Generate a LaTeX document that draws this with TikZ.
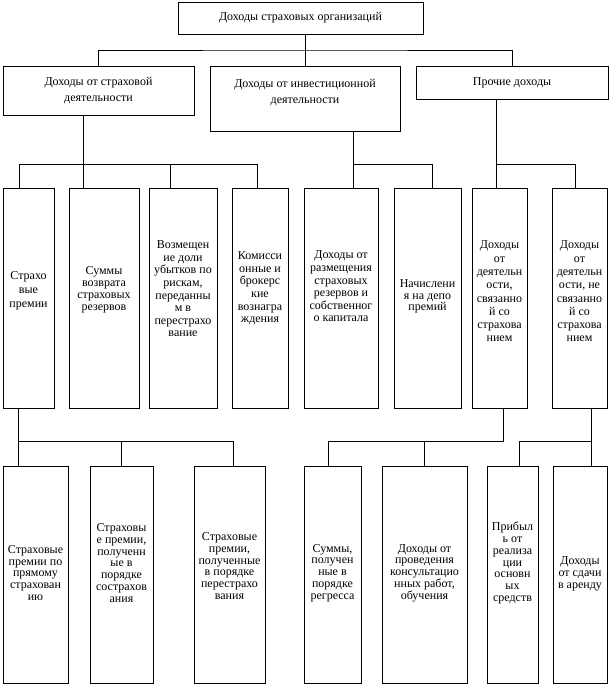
\documentclass[tikz,border=0pt]{standalone}
\usepackage{fontspec}
\setmainfont{Liberation Serif}
\usepackage{tikz}

\begin{document}
\begin{tikzpicture}[x=1pt, y=-1pt, line width=0.8pt]
    \tikzstyle{box} = [draw, rectangle, inner sep=0pt, align=center, font=\fontsize{12}{16}\selectfont]
    \tikzstyle{txt} = [align=center, inner sep=0pt, font=\fontsize{12}{12.6}\selectfont]
    \tikzstyle{lowtxt} = [align=center, inner sep=0pt, font=\fontsize{12}{11.8}\selectfont]

    \useasboundingbox (0,0) rectangle (610,686);

    % top and second level
    \node[box, minimum width=245, minimum height=32] (top) at (300.5,18) {Доходы страховых организаций};
    \node[box, minimum width=191, minimum height=49] (ins) at (98.5,90.5) {Доходы от страховой\\деятельности};
    \node[box, minimum width=190, minimum height=65, label={[txt,font=\fontsize{12}{16}\selectfont,yshift=6]center:{Доходы от инвестиционной\\деятельности}}] (inv) at (305,98.5) {};
    \node[box, minimum width=192, minimum height=33] (oth) at (512,82.5) {Прочие доходы};

    % third level
    \node[box, minimum width=51, minimum height=220, label={[txt,font=\fontsize{12}{14}\selectfont,yshift=7]center:{Страхо\\вые\\премии}}] (s1) at (28.5,298) {};
    \node[box, minimum width=70, minimum height=220, label={[txt,font=\fontsize{12}{12}\selectfont,yshift=8]center:{Суммы\\возврата\\страховых\\резервов}}] (s2) at (104,298) {};
    \node[box, minimum width=68, minimum height=220, label={[txt,yshift=9]center:{Возмещен\\ие доли\\убытков по\\рискам,\\переданны\\м в\\перестрахо\\вание}}] (s3) at (183,298) {};
    \node[box, minimum width=56, minimum height=220, label={[txt,yshift=9.5]center:{Комисси\\онные и\\брокерс\\кие\\вознагра\\ждения}}] (s4) at (260,298) {};
    \node[box, minimum width=74, minimum height=220, label={[txt,yshift=11.5]center:{Доходы от\\размещения\\страховых\\резервов и\\собственног\\о капитала}}] (s5) at (341,298) {};
    \node[box, minimum width=67, minimum height=220, label={[txt,font=\fontsize{12}{11.6}\selectfont,yshift=1.5]center:{Начислени\\я на депо\\премий}}] (s6) at (427.5,298) {};
    \node[box, minimum width=55, minimum height=220, label={[txt,font=\fontsize{12}{13.3}\selectfont,yshift=6.5]center:{Доходы\\от\\деятельн\\ости,\\связанно\\й со\\страхова\\нием}}] (s7) at (499.5,298) {};
    \node[box, minimum width=55, minimum height=220, label={[txt,font=\fontsize{12}{13.3}\selectfont,yshift=6.5]center:{Доходы\\от\\деятельн\\ости, не\\связанно\\й со\\страхова\\нием}}] (s8) at (579.5,298) {};

    % fourth level
    \node[box, minimum width=65, minimum height=217, label={[lowtxt,yshift=1.5]center:{Страховые\\премии по\\прямому\\страхован\\ию}}] (b9) at (35.5,574.5) {};
    \node[box, minimum width=63, minimum height=217, label={[lowtxt,yshift=11.5]center:{Страховы\\е премии,\\полученн\\ые в\\порядке\\сострахов\\ания}}] (b10) at (121.5,574.5) {};
    \node[box, minimum width=71, minimum height=217, label={[lowtxt,yshift=8.5]center:{Страховые\\премии,\\полученные\\в порядке\\перестрахо\\вания}}] (b11) at (229.5,574.5) {};
    \node[box, minimum width=57, minimum height=217, label={[lowtxt,yshift=1.5]center:{Суммы,\\получен\\ные в\\порядке\\регресса}}] (b12) at (332.5,574.5) {};
    \node[box, minimum width=85, minimum height=217, label={[lowtxt,yshift=1.5]center:{Доходы от\\проведения\\консультацио\\нных работ,\\обучения}}] (b13) at (424.5,574.5) {};
    \node[box, minimum width=51, minimum height=217, label={[lowtxt,yshift=11.5]center:{Прибыл\\ь от\\реализа\\ции\\основн\\ых\\средств}}] (b14) at (512.5,574.5) {};
    \node[box, minimum width=54, minimum height=217, label={[lowtxt,yshift=0.5]center:{Доходы\\от сдачи\\в аренду}}] (b15) at (580,574.5) {};

    \coordinate (bus1) at (305,50);
    \coordinate (bus2) at (0,164);
    \coordinate (bus3) at (0,441);

    % first to second level
    \draw ([xshift=4.5]top.south) -- (inv.north);
    \draw (ins.north) |- (bus1) -| (oth.north);

    % second to third level
    \draw ([xshift=-15.5]ins.south) -- ([xshift=-21]s2.north);
    \draw ([xshift=-9.5]s1.north) |- ([xshift=-3]s4.north |- bus2) -- ([xshift=-3]s4.north);
    \draw ([xshift=-13]s3.north) -- ([xshift=-13]s3.north |- bus2);
    \draw ([xshift=48]inv.south) -- ([xshift=12]s5.north);
    \draw ([xshift=12]s5.north |- bus2) -| ([xshift=4.5]s6.north);
    \draw ([xshift=-16]oth.south) -- ([xshift=-3.5]s7.north);
    \draw ([xshift=-3.5]s7.north |- bus2) -| ([xshift=-4.5]s8.north);

    % third to fourth level
    \draw ([xshift=-10.5]s1.south) -- ([xshift=-17.5]b9.north);
    \draw ([xshift=-17.5]b9.north |- bus3) -| ([xshift=3.5]b11.north);
    \draw (b10.north) -- (b10.north |- bus3);
    \draw ([xshift=3.5]s7.south) |- ([xshift=-4.5]b12.north |- bus3) -- ([xshift=-4.5]b12.north);
    \draw (b13.north) -- (b13.north |- bus3);
    \draw ([xshift=11.5]s8.south) -- ([xshift=11]b15.north);
    \draw ([xshift=6.5]b14.north) |- ([xshift=11]b15.north |- bus3);
\end{tikzpicture}
\end{document}
